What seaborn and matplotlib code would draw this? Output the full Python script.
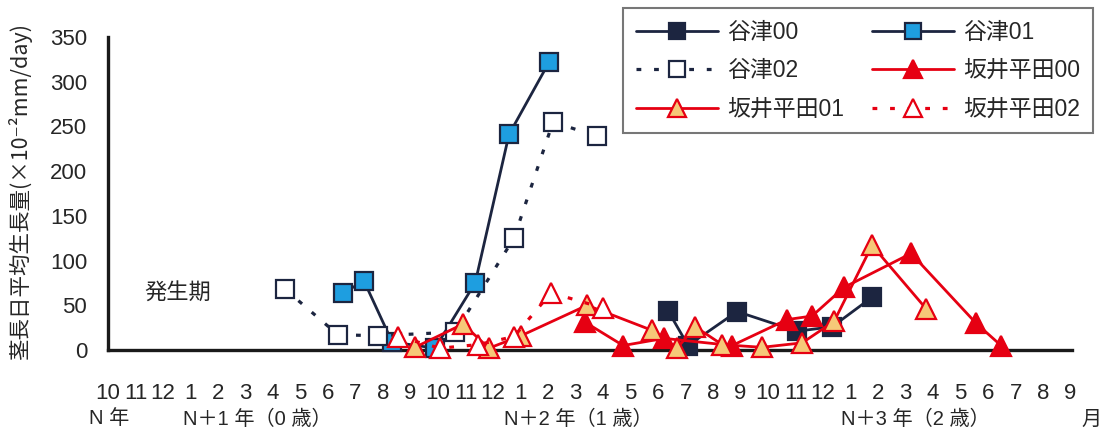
import matplotlib
matplotlib.use("Agg")
import matplotlib.pyplot as plt
import seaborn as sns

# ---- data (x = month index, 0 = Oct of year N) ----
month_labels = ["10", "11", "12",
                "1", "2", "3", "4", "5", "6", "7", "8", "9", "10", "11", "12",
                "1", "2", "3", "4", "5", "6", "7", "8", "9", "10", "11", "12",
                "1", "2", "3", "4", "5", "6", "7", "8", "9"]

yatsu00_x = [20.36, 21.09, 22.87, 25.05, 26.33, 27.78]
yatsu00_y = [44, 5, 43, 21, 26, 59]
yatsu01_x = [8.55, 9.31, 10.33, 11.89, 13.35, 14.58, 16.04]
yatsu01_y = [64, 77, 9, 2, 75, 241, 322]
yatsu02_x = [6.44, 8.36, 9.82, 12.62, 14.76, 16.18, 17.78]
yatsu02_y = [68, 17, 16, 20, 125, 255, 239]
sakai00_x = [17.35, 18.73, 20.22, 22.69, 24.69, 25.6, 26.76, 29.2, 31.56, 32.47]
sakai00_y = [31, 5, 13, 5, 34, 38, 70, 108, 30, 5]
sakai01_x = [11.16, 12.91, 13.85, 15.02, 17.42, 19.78, 20.69, 21.35, 22.33,
             23.78, 25.24, 26.4, 27.78, 29.75]
sakai01_y = [3, 29, 2, 16, 50, 22, 2, 26, 6, 3, 8, 32, 117, 46]
sakai02_x = [10.55, 12.07, 13.45, 14.76, 16.11, 18.0]
sakai02_y = [15, 2, 6, 15, 64, 47]

year_labels = ["N 年", "N＋1 年（0 歳）", "N＋2 年（1 歳）", "N＋3 年（2 歳）", "月"]
year_label_px = [109, 257, 578, 915, 1092]

sns.set_style("white")
plt.rcParams["font.family"] = ["Liberation Sans", "Noto Sans CJK JP", "DejaVu Sans"]

W, H = 1102, 430
fig = plt.figure(figsize=(W / 100, H / 100), dpi=100)
ax = fig.add_axes([108 / W, (H - 350) / H, (1072 - 108) / W, (350 - 37) / H])

navy = "#1c2540"
blue = "#1e9ee0"
red = "#e60012"
orange = "#f6c878"
dot = (0, (1.5, 4))
ms = 13.5
mew = 1.6

series = [
    ("谷津00", yatsu00_x, yatsu00_y, "s", navy, navy, navy, "-"),
    ("谷津01", yatsu01_x, yatsu01_y, "s", navy, blue, navy, "-"),
    ("谷津02", yatsu02_x, yatsu02_y, "s", navy, "white", navy, dot),
    ("坂井平田00", sakai00_x, sakai00_y, "^", red, red, red, "-"),
    ("坂井平田01", sakai01_x, sakai01_y, "^", red, orange, red, "-"),
    ("坂井平田02", sakai02_x, sakai02_y, "^", red, "white", red, dot),
]

handles = {}
for i, (name, xs, ys, mk, lc, fc, ec, ls) in enumerate(series):
    sns.lineplot(x=xs, y=ys, ax=ax, estimator=None, sort=False,
                 color=lc, linestyle=ls, linewidth=2.0 if ls == "-" else 2.3,
                 marker=mk, markersize=ms if mk == "s" else ms + 1,
                 markerfacecolor=fc, markeredgecolor=ec, markeredgewidth=mew,
                 clip_on=False, zorder=3 + i, label=name)
    handles[name] = ax.lines[-1]

ax.set_xlim(0, 35.05)
ax.set_ylim(0, 350)
ax.set_xticks(range(len(month_labels)))
ax.set_xticklabels(month_labels)
ax.set_yticks(range(0, 351, 50))

for s in ["top", "right"]:
    ax.spines[s].set_visible(False)
for s in ["left", "bottom"]:
    ax.spines[s].set_linewidth(2.4)
    ax.spines[s].set_color("#1a1a1a")

ax.tick_params(axis="x", direction="in", length=6, width=2, color="#1a1a1a",
               labelsize=16, pad=24)
ax.tick_params(axis="y", direction="in", length=6, width=2, color="#1a1a1a",
               labelsize=16, pad=15)
ax.set_xlabel("")
ax.set_ylabel("")

fig.text(20 / W, (H - 191) / H, "茎長日平均生長量(×10⁻²mm/day)",
         rotation=90, ha="center", va="center", fontsize=15.5,
         family=["Noto Sans CJK JP", "DejaVu Sans"])

ax.text(178 / W, (H - 293) / H, "発生期", transform=fig.transFigure,
        ha="center", va="center", fontsize=16)

for lab, px in zip(year_labels, year_label_px):
    fig.text(px / W, (H - 419) / H, lab, ha="center", va="center", fontsize=14.5)

order = ["谷津00", "谷津02", "坂井平田01", "谷津01", "坂井平田00", "坂井平田02"]
leg = ax.legend([handles[n] for n in order], order, ncol=2,
                loc="upper right", bbox_to_anchor=(1093 / W, (H - 8) / H),
                bbox_transform=fig.transFigure, fontsize=16.5,
                frameon=True, fancybox=False, edgecolor="#555555",
                handlelength=3.6, handletextpad=0.4, columnspacing=1.2,
                labelspacing=0.68, borderpad=0.55, markerscale=0.85,
                borderaxespad=0)
leg.get_frame().set_linewidth(1.5)

fig.savefig("out.png", dpi=100)
